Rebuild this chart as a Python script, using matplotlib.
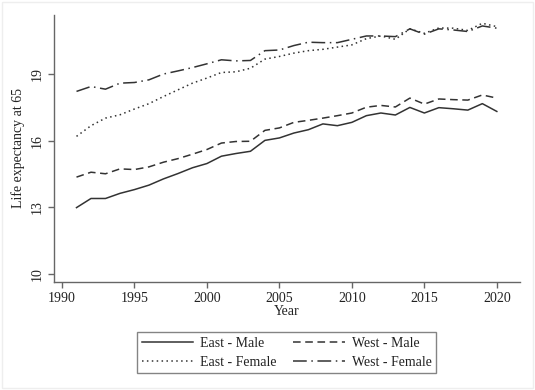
import matplotlib
matplotlib.use('Agg')
import matplotlib.pyplot as plt
from matplotlib.patches import Rectangle

# Life expectancy at 65, East/West Germany, 1991-2020
years = list(range(1991, 2021))

east_male = [12.99, 13.40, 13.40, 13.63, 13.80, 14.00, 14.28, 14.52, 14.78, 14.97,
             15.30, 15.42, 15.52, 16.01, 16.12, 16.34, 16.49, 16.75, 16.67, 16.82,
             17.12, 17.24, 17.15, 17.49, 17.24, 17.48, 17.43, 17.37, 17.66, 17.31]
west_male = [14.36, 14.58, 14.51, 14.73, 14.70, 14.82, 15.03, 15.19, 15.39, 15.60,
             15.89, 15.96, 15.97, 16.46, 16.57, 16.82, 16.91, 17.01, 17.12, 17.24,
             17.50, 17.58, 17.51, 17.91, 17.64, 17.87, 17.84, 17.82, 18.05, 17.91]
east_female = [16.19, 16.67, 17.01, 17.16, 17.42, 17.66, 17.98, 18.28, 18.58, 18.81,
               19.06, 19.09, 19.25, 19.66, 19.78, 19.93, 20.04, 20.10, 20.20, 20.30,
               20.58, 20.70, 20.55, 21.02, 20.82, 21.06, 21.05, 20.95, 21.27, 21.12]
west_female = [18.21, 18.43, 18.31, 18.58, 18.61, 18.73, 18.99, 19.13, 19.28, 19.45,
               19.63, 19.58, 19.60, 20.04, 20.07, 20.27, 20.42, 20.40, 20.40, 20.55,
               20.70, 20.70, 20.67, 21.02, 20.78, 21.02, 20.97, 20.90, 21.15, 21.05]

x_ticks = [1990, 1995, 2000, 2005, 2010, 2015, 2020]
y_ticks = [10, 13, 16, 19]

plt.rcParams['font.family'] = ['Liberation Serif', 'DejaVu Serif']
plt.rcParams['font.size'] = 9

fig = plt.figure(figsize=(5.35, 3.9), dpi=100)
ax = fig.add_axes([0.101, 0.277, 0.871, 0.685])

col = '#333333'
lw = 1.1
l1, = ax.plot(years, east_male, color=col, lw=lw, linestyle='-')
l2, = ax.plot(years, east_female, color=col, lw=lw, linestyle=(0, (1, 2.2)))
l3, = ax.plot(years, west_male, color=col, lw=lw, linestyle=(0, (5, 3)))
l4, = ax.plot(years, west_female, color=col, lw=lw, linestyle=(0, (9, 3, 1, 3)))

ax.set_xlim(1989.45, 2021.6)
ax.set_ylim(9.65, 21.65)
ax.set_xticks(x_ticks)
ax.set_yticks(y_ticks)
ax.set_yticklabels([str(v) for v in y_ticks], rotation=90, va='center')

for side in ['top', 'right']:
    ax.spines[side].set_visible(False)
for side in ['left', 'bottom']:
    ax.spines[side].set_color('#666666')
    ax.spines[side].set_linewidth(1.0)
ax.tick_params(colors='#666666', labelcolor='#222222', length=4, width=1.0, labelsize=10)

ax.set_xlabel('Year', fontsize=10, color='#222222', labelpad=0)
ax.set_ylabel('Life expectancy at 65', fontsize=10, color='#222222', labelpad=4)

leg = fig.legend([l1, l2, l3, l4],
                 ['East - Male', 'East - Female', 'West - Male', 'West - Female'],
                 ncol=2, loc='upper center', bbox_to_anchor=(0.536, 0.166),
                 fontsize=10, frameon=True, fancybox=False, handlelength=3.7,
                 columnspacing=1.2, borderpad=0.35, labelspacing=0.4, handletextpad=0.5)
leg.get_frame().set_edgecolor('#666666')
leg.get_frame().set_linewidth(1.0)
for t in leg.get_texts():
    t.set_color('#222222')

# faint outer border of the graph region
fig.patches.append(Rectangle((0.003, 0.004), 0.994, 0.992, transform=fig.transFigure,
                             fill=False, edgecolor='#eeeeee', linewidth=1.0))

fig.savefig('out.png', dpi=100)
